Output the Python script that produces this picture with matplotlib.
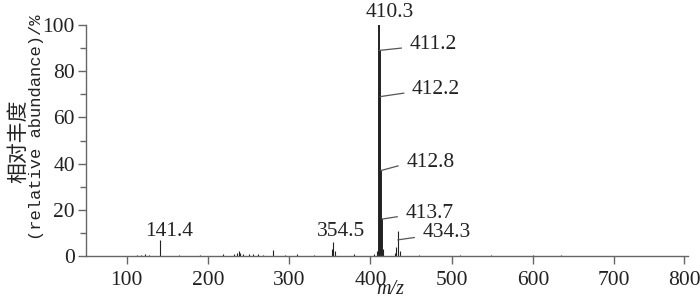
import matplotlib.pyplot as plt
from matplotlib.ticker import MultipleLocator

# spectrum peaks (m/z, relative abundance %)
peak_mz = [113, 118, 122, 127, 141.4, 165, 190, 219, 232, 236, 238, 240, 243,
           250, 255, 262, 268, 280, 295, 310, 330, 353, 354.5, 357, 380,
           405, 408, 410.3, 411.2, 412.2, 412.8, 413.7, 415,
           430, 432, 434.3, 437, 460, 510, 548, 600, 635, 700]
peak_int = [0.4, 0.6, 0.7, 0.5, 7, 0.3, 0.3, 1.0, 0.8, 1.5, 2.0, 1.4, 0.9,
            0.8, 0.8, 0.9, 0.6, 2.5, 0.5, 0.9, 0.5, 3, 6, 2, 0.8,
            1.0, 2.0, 100, 89, 69, 37, 16, 3,
            1.5, 4, 11, 2, 0.5, 0.3, 0.6, 0.3, 0.6, 0.2]
cluster = [410.3, 411.2, 412.2, 412.8, 413.7]

# labelled peaks: text, peak x, peak y, text x, text y
label_txt = ['410.3', '411.2', '412.2', '412.8', '413.7', '434.3', '141.4', '354.5']
label_pk = [(410.3, 100), (410.8, 89), (412.1, 69), (413, 37), (414.5, 16), (434, 7),
            (141.4, 7), (354.5, 6)]
label_pos = [(424, 105.5), (448, 91.5), (451, 72), (444, 40.5), (443, 18.5), (464, 10),
             (152, 10.8), (364, 10.4)]
leader = [False, True, True, True, True, True, False, False]

xticks = [100, 200, 300, 400, 500, 600, 700, 786]
xtick_labels = ['100', '200', '300', '400', '500', '600', '700', '800']

num_font = 'Liberation Serif'
fs = 15.5
ink = '#222222'
axis_c = '#666666'

fig = plt.figure(figsize=(7, 2.99), dpi=100)
ax = fig.add_axes([0.1229, 0.1438, 0.983 - 0.1229, 0.9164 - 0.1438])

big = [i for i in range(len(peak_mz)) if peak_mz[i] in cluster]
small = [i for i in range(len(peak_mz)) if peak_mz[i] not in cluster]
ax.vlines([peak_mz[i] for i in small], 0, [peak_int[i] for i in small],
          color=ink, linewidth=0.8)
ax.vlines([peak_mz[i] for i in big], 0, [peak_int[i] for i in big],
          color=ink, linewidth=1.4)

for txt, pk, pos, ld in zip(label_txt, label_pk, label_pos, leader):
    if ld:
        ax.plot([pk[0], pos[0] - 10], [pk[1], pos[1] - 1.5 if txt != '434.3' else pos[1] - 2],
                color='#555555', linewidth=0.9, clip_on=False)
        ax.text(pos[0], pos[1], txt, ha='left', va='center', fontsize=fs,
                family=num_font, color=ink, clip_on=False)
    else:
        ax.text(pos[0], pos[1], txt, ha='center', va='center', fontsize=fs,
                family=num_font, color=ink, clip_on=False)

ax.set_xlim(50, 791)
ax.set_ylim(0, 100)
ax.set_xticks(xticks)
ax.set_xticklabels(xtick_labels)
ax.yaxis.set_major_locator(MultipleLocator(20))
ax.yaxis.set_minor_locator(MultipleLocator(10))

for s in ['top', 'right']:
    ax.spines[s].set_visible(False)
for s in ['left', 'bottom']:
    ax.spines[s].set_color(axis_c)
    ax.spines[s].set_linewidth(1.0)

ax.tick_params(which='major', length=6, width=1, color=axis_c)
ax.tick_params(axis='x', pad=5)
ax.tick_params(axis='y', pad=2)
ax.tick_params(which='minor', length=4, width=1, color=axis_c)
for lab in ax.get_xticklabels() + ax.get_yticklabels():
    lab.set_fontfamily(num_font)
    lab.set_fontsize(fs)
    lab.set_color(ink)

ax.text(424, -14.3, 'm/z', ha='center', va='center', fontsize=fs - 1,
        family=num_font, style='italic', color=ink, clip_on=False)

fig.text(18 / 700, 1 - 141 / 299, '相对丰度', rotation=90, ha='center', va='center',
         fontsize=15, family=['Noto Sans CJK SC', 'DejaVu Sans'], color=ink)
fig.text(37 / 700, 1 - 127 / 299, '(relative abundance)/%', rotation=90,
         ha='center', va='center', fontsize=12.3, family='Liberation Mono', color=ink)

plt.savefig('out.png', dpi=100)
plt.close()
